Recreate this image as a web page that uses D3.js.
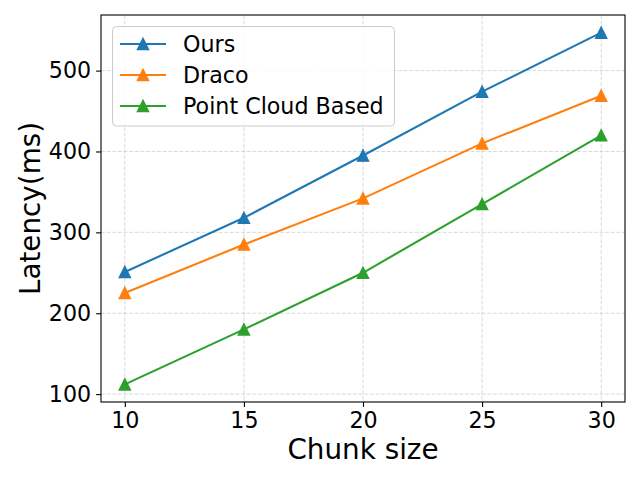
<!DOCTYPE html>
<html><head><meta charset="utf-8">
<script src="https://cdn.jsdelivr.net/npm/d3@7"></script>
<style>body{margin:0;background:#fff}svg{display:block;font-family:"DejaVu Sans",sans-serif}</style>
</head><body><svg id="c" width="640" height="480"></svg>
<script>
const chunkSizes = [10, 15, 20, 25, 30];
const oursLatency = [251, 318, 395, 474, 547];
const dracoLatency = [225, 285, 342, 410, 469];
const pointCloudLatency = [112, 180, 250, 335, 420];
const seriesNames = ["Ours", "Draco", "Point Cloud Based"];
const seriesColors = ["#1f77b4", "#ff7f0e", "#2ca02c"];
const xTicks = [10, 15, 20, 25, 30];
const yTicks = [100, 200, 300, 400, 500];

const series = [oursLatency, dracoLatency, pointCloudLatency].map((v, i) => ({
  name: seriesNames[i], color: seriesColors[i],
  pts: v.map((y, j) => ({x: chunkSizes[j], y}))
}));

const L = 101, R = 625, T = 15, B = 402;
const x = d3.scaleLinear().domain([9, 31]).range([L, R]);
const y = d3.scaleLinear().domain([90.25, 568.75]).range([B, T]);
const svg = d3.select("#c");

// grid
const g = svg.append("g");
g.selectAll(".gx").data(xTicks).join("line")
  .attr("x1", d => x(d)).attr("x2", d => x(d)).attr("y1", T).attr("y2", B)
  .attr("stroke", "#b0b0b0").attr("stroke-opacity", 0.6).attr("stroke-width", 0.8).attr("stroke-dasharray", "4,1.6");
g.selectAll(".gy").data(yTicks).join("line")
  .attr("y1", d => y(d)).attr("y2", d => y(d)).attr("x1", L).attr("x2", R)
  .attr("stroke", "#b0b0b0").attr("stroke-opacity", 0.6).attr("stroke-width", 0.8).attr("stroke-dasharray", "4,1.6");

// axes
const xAxis = svg.append("g").attr("transform", `translate(0,${B})`)
  .call(d3.axisBottom(x).tickValues(xTicks).tickSize(4.9).tickPadding(4.9).tickSizeOuter(0));
const yAxis = svg.append("g").attr("transform", `translate(${L},0)`)
  .call(d3.axisLeft(y).tickValues(yTicks).tickSize(4.9).tickPadding(4.9).tickSizeOuter(0));
[xAxis, yAxis].forEach(a => {
  a.select(".domain").remove();
  a.selectAll("line").attr("stroke", "#000").attr("stroke-width", 1.1);
  a.selectAll("text").attr("font-size", "22.2px").attr("fill", "#000").attr("font-family", "DejaVu Sans");
});

// frame
svg.append("rect").attr("x", L).attr("y", T).attr("width", R - L).attr("height", B - T)
  .attr("fill", "none").attr("stroke", "#000").attr("stroke-width", 1.1);

// lines & markers
const line = d3.line().x(d => x(d.x)).y(d => y(d.y));
const h = 5.6;
const tri = `M0,${-h}L${h},${h}L${-h},${h}Z`;
series.forEach(s => {
  svg.append("path").datum(s.pts).attr("d", line).attr("fill", "none")
    .attr("stroke", s.color).attr("stroke-width", 2.08);
  svg.selectAll(null).data(s.pts).join("path")
    .attr("transform", d => `translate(${x(d.x)},${y(d.y)})`)
    .attr("d", tri).attr("fill", s.color).attr("stroke", s.color).attr("stroke-width", 1.39)
    .attr("stroke-linejoin", "miter");
});

// labels
svg.append("text").attr("x", (L + R) / 2).attr("y", 459).attr("text-anchor", "middle")
  .attr("font-size", "27.8px").text("Chunk size");
svg.append("text").attr("transform", `translate(40,${(T + B) / 2}) rotate(-90)`).attr("text-anchor", "middle")
  .attr("font-size", "27.8px").text("Latency(ms)");

// legend
const lg = svg.append("g");
lg.append("rect").attr("x", 112.5).attr("y", 26.5).attr("width", 282).attr("height", 99.5).attr("rx", 4)
  .attr("fill", "#fff").attr("fill-opacity", 0.8).attr("stroke", "#ccc").attr("stroke-width", 1);
series.forEach((s, i) => {
  const cy = 44 + i * 31;
  lg.append("line").attr("x1", 120).attr("x2", 166).attr("y1", cy).attr("y2", cy)
    .attr("stroke", s.color).attr("stroke-width", 2.08);
  lg.append("path").attr("transform", `translate(143,${cy})`).attr("d", tri)
    .attr("fill", s.color).attr("stroke", s.color).attr("stroke-width", 1.39);
  lg.append("text").attr("x", 183).attr("y", cy + 8).attr("font-size", "22.2px").text(s.name);
});
</script></body></html>
